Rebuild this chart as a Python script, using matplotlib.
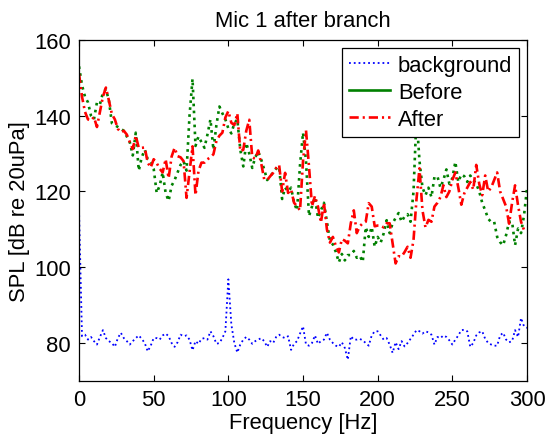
import matplotlib
matplotlib.use("Agg")
import matplotlib.pyplot as plt
from matplotlib.lines import Line2D
import numpy as np

# frequency bins (Hz), 2 Hz resolution
freq = np.arange(0, 301, 2)

background = [
    115.0, 81.8, 82.2, 80.9, 81.6, 80.5, 79.6, 81.6, 83.4, 81.3,
    80.5, 80.0, 79.0, 81.3, 82.7, 81.3, 80.5, 79.6, 80.5, 81.3,
    82.0, 81.1, 80.0, 77.8, 79.3, 81.3, 81.3, 80.9, 82.0, 82.5,
    81.8, 80.0, 79.0, 80.2, 82.2, 81.8, 82.0, 80.9, 78.1, 80.5,
    79.8, 81.1, 81.3, 80.9, 83.1, 81.8, 79.8, 80.0, 81.3, 83.1,
    96.8, 84.9, 80.0, 77.5, 79.6, 80.9, 81.6, 80.9, 79.8, 80.5,
    80.9, 81.3, 80.5, 79.0, 80.5, 80.0, 81.6, 82.2, 81.6, 81.3,
    81.8, 78.2, 79.8, 80.5, 82.5, 84.4, 79.6, 79.3, 80.0, 82.0,
    79.8, 80.5, 80.9, 82.7, 80.9, 80.0, 79.3, 79.0, 80.2, 78.7,
    75.6, 81.8, 80.9, 80.9, 81.1, 80.7, 80.0, 79.3, 82.0, 83.1,
    83.1, 82.0, 80.9, 81.3, 79.6, 77.4, 80.2, 78.4, 80.5, 79.1,
    80.0, 81.1, 82.2, 83.4, 83.1, 82.5, 83.1, 82.8, 82.2, 79.6,
    81.6, 81.3, 82.0, 81.6, 80.7, 79.6, 80.9, 82.0, 83.4, 83.5,
    83.1, 79.0, 80.0, 82.0, 82.8, 83.1, 81.1, 80.0, 79.6, 79.3,
    79.3, 82.0, 82.7, 80.9, 80.2, 80.5, 83.4, 81.6, 86.6, 84.4,
    84.0,
]

before = [
    153.0, 148.0, 145.0, 143.5, 140.0, 139.0, 143.5, 143.0, 146.0, 147.0,
    144.0, 138.0, 137.5, 137.0, 136.5, 136.0, 134.5, 133.0, 129.5, 135.5,
    125.5, 129.0, 131.0, 128.5, 128.0, 126.0, 119.6, 121.5, 125.0, 119.6,
    117.5, 121.5, 123.0, 125.0, 127.0, 128.0, 125.5, 140.0, 149.7, 132.0,
    134.5, 133.0, 131.5, 135.0, 139.0, 131.0, 137.5, 142.4, 140.6, 139.0,
    136.6, 135.3, 138.0, 139.0, 131.0, 126.6, 132.8, 130.0, 126.2, 129.0,
    130.5, 128.4, 125.8, 123.0, 124.0, 125.0, 126.0, 126.5, 118.0, 121.0,
    120.0, 121.0, 117.0, 115.0, 127.0, 135.5, 128.0, 113.5, 116.0, 118.5,
    113.0, 115.0, 117.0, 112.0, 107.0, 106.0, 104.0, 101.3, 103.5, 101.8,
    103.2, 103.2, 104.3, 102.5, 103.0, 101.4, 110.6, 108.0, 110.6, 105.4,
    108.0, 106.5, 108.9, 112.4, 109.0, 111.6, 113.0, 114.3, 112.0, 113.4,
    114.0, 112.0, 120.0, 140.0, 128.0, 121.0, 119.0, 121.0, 118.5, 123.8,
    124.0, 121.0, 123.0, 125.8, 122.0, 123.5, 127.8, 122.5, 124.5, 124.0,
    122.5, 124.2, 123.0, 122.0, 120.0, 117.0, 115.0, 112.8, 111.9, 112.0,
    108.0, 106.6, 105.8, 108.5, 112.0, 112.0, 105.8, 110.2, 109.0, 113.7,
    120.8,
]

after = [
    151.0, 145.0, 141.0, 139.0, 138.7, 139.6, 137.0, 141.0, 145.0, 147.4,
    144.0, 140.4, 139.0, 136.5, 135.6, 136.0, 135.0, 133.0, 131.2, 134.7,
    131.5, 131.5, 131.6, 127.6, 126.3, 128.5, 127.5, 126.0, 125.0, 128.5,
    123.5, 129.2, 131.5, 129.3, 129.0, 128.0, 118.3, 125.0, 131.9, 119.0,
    125.4, 127.6, 127.6, 128.5, 129.0, 129.8, 133.3, 134.7, 135.5, 139.5,
    141.2, 138.1, 137.5, 140.6, 130.6, 131.0, 136.0, 138.9, 129.0, 128.6,
    130.8, 127.4, 123.2, 123.0, 124.0, 124.9, 126.2, 127.0, 120.0, 124.9,
    119.6, 120.5, 117.0, 116.1, 115.0, 128.0, 136.1, 126.6, 116.1, 118.8,
    116.0, 111.8, 117.0, 110.0, 106.5, 108.0, 105.6, 103.9, 107.4, 107.0,
    106.3, 111.6, 115.0, 109.0, 110.8, 111.6, 112.0, 116.9, 116.0, 110.8,
    111.0, 111.0, 110.5, 111.6, 111.6, 106.3, 101.0, 102.9, 102.8, 104.0,
    105.4, 102.5, 107.2, 118.0, 126.1, 115.0, 110.5, 112.5, 112.0, 116.0,
    117.0, 118.5, 121.6, 118.5, 120.0, 123.0, 125.0, 121.0, 116.5, 119.5,
    121.0, 122.5, 120.5, 127.0, 122.0, 119.0, 124.2, 120.0, 121.0, 123.0,
    125.0, 120.0, 118.0, 116.0, 111.5, 117.0, 121.6, 116.3, 112.0, 109.8,
    110.0,
]

plt.rcParams["font.family"] = ["Liberation Sans", "DejaVu Sans"]
fs = 15.8
red_dashdot = (0, (3.5, 1.5, 0.8, 1.5))

fig = plt.figure(figsize=(5.45, 4.39), dpi=100)
ax = fig.add_axes([0.145, 0.130, 0.822, 0.777])

ax.plot(freq, background, color=(0, 0, 1), linestyle=":", linewidth=1.3)
ax.plot(freq, before, color=(0, 0.5, 0), linestyle=":", linewidth=1.9)
ax.plot(freq, after, color=(1, 0, 0), linestyle=red_dashdot, linewidth=1.9)

ax.set_xlim(0, 300)
ax.set_ylim(70, 160)
ax.set_xticks(range(0, 301, 50))
ax.set_yticks(range(80, 161, 20))
ax.tick_params(direction="in", top=True, right=True, length=4, width=0.8,
               labelsize=fs, pad=6)
for s in ax.spines.values():
    s.set_linewidth(0.9)

ax.set_title("Mic 1 after branch", fontsize=fs, pad=10)
ax.set_xlabel("Frequency [Hz]", fontsize=fs, labelpad=1)
ax.set_ylabel("SPL [dB re 20uPa]", fontsize=fs, labelpad=3)

handles = [
    Line2D([], [], color=(0, 0, 1), linestyle=":", linewidth=1.3),
    Line2D([], [], color=(0, 0.5, 0), linestyle="-", linewidth=1.9),
    Line2D([], [], color=(1, 0, 0), linestyle=red_dashdot, linewidth=1.9),
]
leg = ax.legend(handles, ["background", "Before", "After"], loc="upper right",
                fontsize=fs, frameon=True, fancybox=False, framealpha=1,
                edgecolor="black", handlelength=1.9, handletextpad=0.35,
                labelspacing=0.28, borderpad=0.32, borderaxespad=0.35)
leg.get_frame().set_linewidth(0.9)

fig.savefig("out.png", dpi=100)
